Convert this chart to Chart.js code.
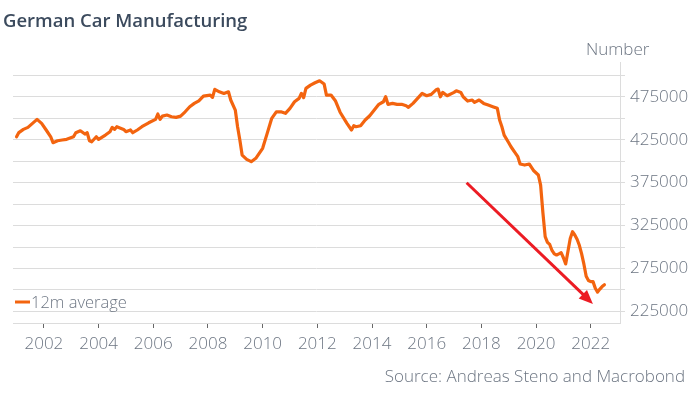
<!DOCTYPE html>
<html>
<head>
<meta charset="utf-8">
<script src="https://cdn.jsdelivr.net/npm/chart.js@4"></script>
<style>
  html, body { margin: 0; padding: 0; background: #fff; }
</style>
</head>
<body>
<canvas id="chart" width="693" height="395"></canvas>
<script>
// 12m average of German car production
const months = [
  '2001-01','2001-02','2001-04','2001-06','2001-08','2001-10','2001-12',
  '2002-02','2002-04','2002-05','2002-07','2002-09','2002-11',
  '2003-02','2003-03','2003-05','2003-07','2003-08','2003-09','2003-10','2003-12',
  '2004-01','2004-04','2004-06','2004-07','2004-08','2004-09','2004-12',
  '2005-01','2005-03','2005-04','2005-06','2005-08','2005-11',
  '2006-02','2006-03','2006-04','2006-05','2006-07','2006-09','2006-11',
  '2007-01','2007-03','2007-05','2007-07','2007-09','2007-11',
  '2008-02','2008-03','2008-04','2008-06','2008-08','2008-10','2008-11',
  '2009-01','2009-02','2009-03','2009-04','2009-06','2009-08','2009-10',
  '2010-01','2010-03','2010-05','2010-07','2010-09','2010-11',
  '2011-01','2011-03','2011-05','2011-06','2011-07','2011-08','2011-10','2011-12',
  '2012-02','2012-04','2012-05','2012-07','2012-09','2012-11',
  '2013-02','2013-04','2013-05','2013-06','2013-08','2013-10','2013-12',
  '2014-02','2014-04','2014-06','2014-07','2014-08','2014-10','2014-12',
  '2015-02','2015-04','2015-05','2015-07','2015-09','2015-11',
  '2016-01','2016-03','2016-05','2016-06','2016-07','2016-08','2016-10',
  '2017-01','2017-02','2017-04','2017-05','2017-07','2017-09','2017-10','2017-12',
  '2018-02','2018-04','2018-06','2018-08','2018-09','2018-10','2018-11',
  '2019-01','2019-02','2019-04','2019-05','2019-06','2019-08','2019-10','2019-11','2019-12',
  '2020-02','2020-03','2020-04','2020-05','2020-06','2020-07','2020-08','2020-09','2020-10','2020-11','2020-12',
  '2021-01','2021-02','2021-03','2021-04','2021-05','2021-06','2021-07','2021-08','2021-09','2021-10','2021-11','2021-12',
  '2022-01','2022-02','2022-03','2022-04','2022-05','2022-06','2022-07'
];
const units = [
  428400,433300,437000,439400,444000,448700,444000,
  436300,428400,421500,423800,424600,425400,
  428400,433100,435400,431600,433100,423800,422600,428400,
  425400,430400,434300,439400,437000,440100,437000,
  434300,436300,433100,436300,440100,444700,
  448700,454900,448700,452500,453700,451700,451000,
  452500,457500,463400,467300,470300,475800,
  477000,474300,483600,480800,478900,480800,471200,
  459500,440100,424600,407100,402100,399400,403300,
  415000,432400,449900,457500,457500,455700,
  461500,469200,473100,479000,474000,484800,488600,491300,
  493600,489800,477000,477000,470000,457000,
  444000,436300,441300,440100,441300,447900,452900,
  459500,466200,469200,475000,466200,467300,466200,
  466200,464500,462700,467300,473100,479000,
  476200,477800,482800,484000,475000,480100,476200,
  480100,482000,480100,475000,470000,471200,468500,471200,
  467300,465300,463400,461500,448000,440100,430400,
  421500,416800,409100,405200,396700,395500,396700,392800,388800,
  383900,372200,340000,312100,305500,303000,296000,292000,290700,292000,293400,
  287500,280300,295000,310000,317900,314000,309000,302000,292000,280000,266000,261000,
  259700,259700,252000,247500,251000,253900,256000
];

const xTickYears = [2002, 2004, 2006, 2008, 2010, 2012, 2014, 2016, 2018, 2020, 2022];
const yGridValues = [225000, 250000, 275000, 300000, 325000, 350000, 375000, 400000,
                     425000, 450000, 475000, 500000];
const yLabelValues = [225000, 275000, 325000, 375000, 425000, 475000];

// red trend arrow (start, end) in chart units
const arrowYears = [2017.46, 2022.08];
const arrowValues = [374900, 233700];

const FONT = '"Open Sans", "Segoe UI", sans-serif';
const ORANGE = '#f3640f';
const GREY = '#6d7683';

function toYear(m) {
  const [y, mo] = m.split('-').map(Number);
  return y + (mo - 1) / 12;
}

const decor = {
  id: 'decor',
  afterDatasetsDraw(chart) {
    const ctx = chart.ctx;
    const xs = chart.scales.x, ys = chart.scales.y;
    const x1 = xs.getPixelForValue(arrowYears[0]), y1 = ys.getPixelForValue(arrowValues[0]);
    const x2 = xs.getPixelForValue(arrowYears[1]), y2 = ys.getPixelForValue(arrowValues[1]);
    const a = Math.atan2(y2 - y1, x2 - x1);
    const head = 14, half = 6;
    ctx.save();
    ctx.strokeStyle = '#ec1c24';
    ctx.fillStyle = '#ec1c24';
    ctx.lineWidth = 3;
    ctx.beginPath();
    ctx.moveTo(x1, y1);
    ctx.lineTo(x2 - head * 0.8 * Math.cos(a), y2 - head * 0.8 * Math.sin(a));
    ctx.stroke();
    ctx.beginPath();
    ctx.moveTo(x2, y2);
    ctx.lineTo(x2 - head * Math.cos(a) + half * Math.sin(a), y2 - head * Math.sin(a) - half * Math.cos(a));
    ctx.lineTo(x2 - head * Math.cos(a) - half * Math.sin(a), y2 - head * Math.sin(a) + half * Math.cos(a));
    ctx.closePath();
    ctx.fill();
    ctx.restore();
  },
  afterDraw(chart) {
    const ctx = chart.ctx;
    const area = chart.chartArea;
    ctx.save();
    ctx.textBaseline = 'alphabetic';

    ctx.fillStyle = '#3b4a5d';
    ctx.font = '600 18.5px ' + FONT;
    ctx.textAlign = 'left';
    ctx.fillText('German Car Manufacturing', 3, 27);

    ctx.fillStyle = GREY;
    ctx.font = '300 17px ' + FONT;
    ctx.fillText('Number', 586, 55);

    ctx.textAlign = 'right';
    ctx.fillText('Source: Andreas Steno and Macrobond', 685, 382);

    // legend inside the plot, bottom left
    const ly = 302;
    ctx.strokeStyle = ORANGE;
    ctx.lineWidth = 3;
    ctx.beginPath();
    ctx.moveTo(area.left + 2, ly);
    ctx.lineTo(area.left + 17, ly);
    ctx.stroke();
    ctx.textAlign = 'left';
    ctx.font = '300 16.5px ' + FONT;
    ctx.fillText(chart.data.datasets[0].label, area.left + 18, 308);
    ctx.restore();
  }
};

new Chart(document.getElementById('chart').getContext('2d'), {
  type: 'line',
  data: {
    datasets: [{
      label: '12m average',
      data: months.map((m, i) => ({ x: toYear(m), y: units[i] })),
      borderColor: ORANGE,
      borderWidth: 3.2,
      pointRadius: 0,
      tension: 0,
      borderJoinStyle: 'round',
      borderCapStyle: 'round'
    }]
  },
  options: {
    responsive: false,
    animation: false,
    layout: { padding: { top: 62, left: 13, right: 0, bottom: 32 } },
    plugins: {
      legend: { display: false },
      title: { display: false },
      tooltip: { enabled: false }
    },
    scales: {
      x: {
        type: 'linear',
        min: 2000.87,
        max: 2023.07,
        afterBuildTicks: s => { s.ticks = xTickYears.map(v => ({ value: v })); },
        afterFit: s => { s.height = 40; },
        grid: { drawOnChartArea: false, drawTicks: true, tickLength: 5, color: '#666' },
        border: { display: true, color: '#dcdcdc' },
        ticks: {
          color: GREY,
          font: { family: FONT, size: 17, weight: 300 },
          padding: 6,
          maxRotation: 0,
          autoSkip: false,
          callback: v => String(v)
        }
      },
      y: {
        position: 'right',
        min: 211500,
        max: 515500,
        afterBuildTicks: s => { s.ticks = yGridValues.map(v => ({ value: v })); },
        afterFit: s => { s.width = 73; },
        grid: { color: '#dcdcdc', drawTicks: true, tickLength: 5 },
        border: { display: true, color: '#dcdcdc' },
        ticks: {
          color: GREY,
          font: { family: FONT, size: 17, weight: 300 },
          padding: 5,
          autoSkip: false,
          callback: v => yLabelValues.includes(v) ? String(v) : ''
        }
      }
    }
  },
  plugins: [decor]
});
</script>
</body>
</html>
